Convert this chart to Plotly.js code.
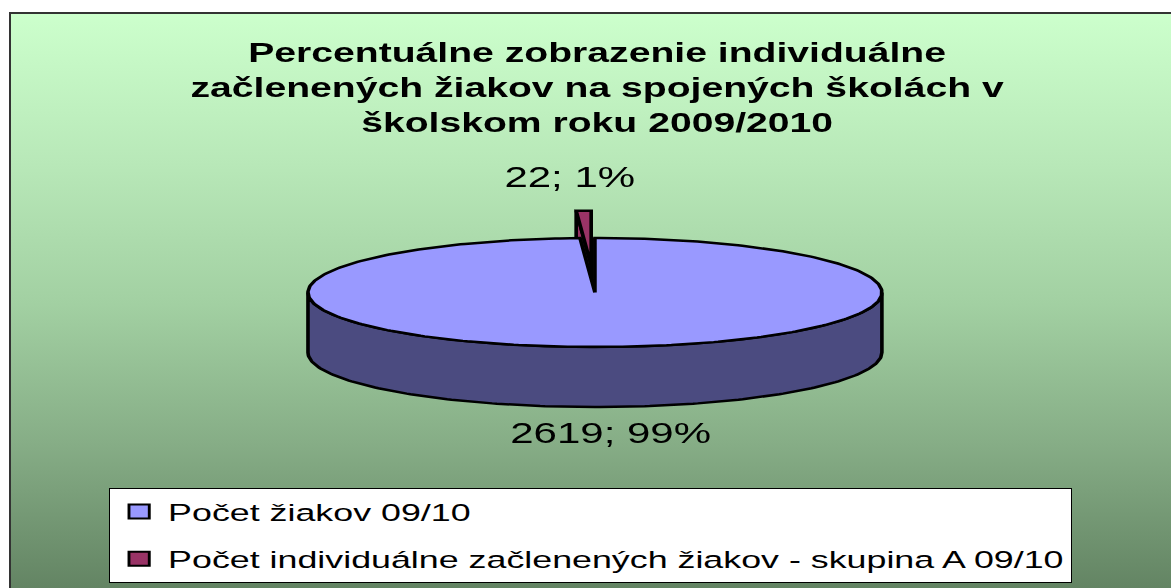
<!DOCTYPE html>
<html>
<head>
<meta charset="utf-8">
<script src="https://cdn.plot.ly/plotly-3.0.1.min.js"></script>
<style>
  html, body { margin:0; padding:0; width:1171px; height:588px; overflow:hidden; background:#ffffff; }
  #bg { position:absolute; left:9px; top:12px; right:-20px; bottom:-20px;
        border-left:2px solid #333; border-top:2px solid #333;
        background: linear-gradient(to bottom, #ccffcc 0px, #b8e8b8 150px, #a2d0a2 290px, #86ad86 430px, #5e7e5e 596px); }
  #wrap { position:absolute; left:0; top:0; width:808px; height:588px; transform:scaleX(1.4493); transform-origin:0 0; }
  #chart { width:808px; height:588px; }
</style>
</head>
<body>
<div id="bg"></div>
<div id="wrap"><div id="chart"></div></div>
<script>
// ---- data ----
const categories = ["Počet žiakov 09/10", "Počet individuálne začlenených žiakov - skupina A 09/10"];
const values = [2619, 22];
const titleText = "Percentuálne zobrazenie individuálne<br>začlenených žiakov na spojených školách v<br>školskom roku 2009/2010";

// ---- style / geometry ----
const W = 808, H = 588;
const topColors = ["#9999ff", "#993366"];
const sideColors = ["#4b4b80", "#993366"];
const explode = [0, 0.5];
const geo = { cx: 410.5, cy: 292.5, rx: 198, ry: 54.5, depth: 60 };
const labelPos = [[421.5, 433], [393, 177]];
const FONT = "Arial, 'Liberation Sans', sans-serif";

const total = values.reduce((a, b) => a + b, 0);
function pt(theta, ox, oy, dz) {
  const r = theta * Math.PI / 180;
  return [geo.cx + ox + geo.rx * Math.cos(r), geo.cy + oy - geo.ry * Math.sin(r) + (dz || 0)];
}
function arc(a0, a1, ox, oy, dz) {
  const n = Math.max(2, Math.ceil(Math.abs(a1 - a0)));
  const out = [];
  for (let k = 0; k <= n; k++) out.push(pt(a0 + (a1 - a0) * k / n, ox, oy, dz));
  return out;
}
function poly(points, fill, name) {
  return {
    type: "scatter", mode: "lines", fill: "toself", fillcolor: fill,
    x: points.map(p => p[0]), y: points.map(p => p[1]),
    line: { color: "#000000", width: 2.5 }, hoverinfo: "skip", showlegend: false, name: name
  };
}

// slices clockwise from 12 o'clock
const slices = [];
let start = 90;
values.forEach((v, i) => {
  const sweep = 360 * v / total;
  const a0 = start, a1 = start - sweep;
  const mid = (a0 + a1) / 2 * Math.PI / 180;
  const ox = explode[i] * geo.rx * Math.cos(mid);
  const oy = -explode[i] * geo.ry * Math.sin(mid);
  slices.push({ i, a0, a1, ox, oy });
  start = a1;
});

const traces = [];
// exploded (back) slices first, then the front slice
const order = slices.slice().sort((a, b) => (b.oy === 0 ? -1 : 1) - (a.oy === 0 ? -1 : 1));
order.forEach(s => {
  const apex = [geo.cx + s.ox, geo.cy + s.oy];
  const apexB = [apex[0], apex[1] + geo.depth];
  [s.a0, s.a1].forEach(a => {
    const p = pt(a, s.ox, s.oy), pb = pt(a, s.ox, s.oy, geo.depth);
    traces.push(poly([apex, p, pb, apexB, apex], sideColors[s.i], categories[s.i]));
  });
  const lo = Math.max(s.a1, -180), hi = Math.min(s.a0, 0);
  if (hi > lo) {
    const topArc = arc(lo, hi, s.ox, s.oy, 0);
    const botArc = arc(hi, lo, s.ox, s.oy, geo.depth);
    const wall = topArc.concat(botArc);
    wall.push(topArc[0]);
    traces.push(poly(wall, sideColors[s.i], categories[s.i]));
  }
  const face = [apex].concat(arc(s.a0, s.a1, s.ox, s.oy, 0));
  face.push(apex);
  traces.push(poly(face, topColors[s.i], categories[s.i]));
});

// legend entries
categories.forEach((c, i) => {
  traces.push({
    type: "scatter", mode: "markers", x: [-100], y: [-100], name: c,
    legendgroup: "g" + i, showlegend: true, hoverinfo: "skip",
    marker: { symbol: "square", size: 14, color: topColors[i], line: { color: "#000000", width: 2 } }
  });
});

const annotations = values.map((v, i) => ({
  x: labelPos[i][0], y: labelPos[i][1], xref: "x", yref: "y",
  text: v + "; " + Math.round(100 * v / total) + "%",
  showarrow: false, xanchor: "center", yanchor: "middle",
  font: { family: FONT, size: 29, color: "#000000" }
}));

const layout = {
  width: W, height: H,
  margin: { l: 0, r: 0, t: 0, b: 0 },
  paper_bgcolor: "rgba(0,0,0,0)", plot_bgcolor: "rgba(0,0,0,0)",
  xaxis: { range: [0, W], visible: false, fixedrange: true },
  yaxis: { range: [H, 0], visible: false, fixedrange: true },
  title: {
    text: titleText, x: 412 / W, xref: "paper", xanchor: "center",
    y: 1 - 62 / H, yref: "container", yanchor: "top",
    font: { family: FONT, size: 27, weight: "bold", color: "#000000" }
  },
  showlegend: true,
  legend: {
    x: 75 / W, y: 1 - 488 / H, xanchor: "left", yanchor: "top",
    bgcolor: "#ffffff", bordercolor: "#000000", borderwidth: 1,
    font: { family: FONT, size: 24.7, color: "#000000" },
    traceorder: "grouped", tracegroupgap: 12
  },
  annotations: annotations
};

Plotly.newPlot("chart", traces, layout, { displayModeBar: false, staticPlot: true });
</script>
</body>
</html>
